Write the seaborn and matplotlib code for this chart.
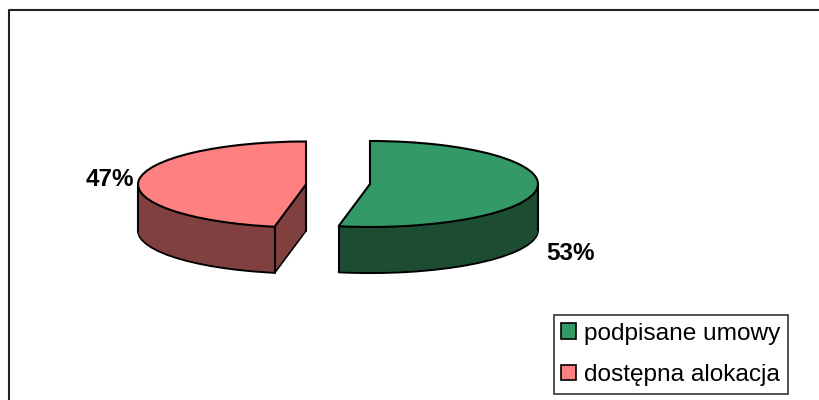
import matplotlib
matplotlib.use('Agg')
import numpy as np
import seaborn as sns
import matplotlib.pyplot as plt
from matplotlib.patches import Patch

# Data
labels = ['podpisane umowy', 'dostępna alokacja']
values = [53, 47]
pct_labels = ['53%', '47%']
top_colors = ['#339966', '#FF8080']
side_colors = ['#1C4D33', '#804040']

sns.set_theme(style='white')
plt.rcParams['font.family'] = ['Liberation Sans', 'DejaVu Sans']

# pixel layout of the reference
rx, ry, depth = 168, 43, 46
squash = rx / ry
centers = [(370, 184), (306, 184.5)]


def to_y(py):
    # pixel row -> stretched data y, the axes squash the pie back down
    return (400 - py) * squash


def draw_slice(ax, idx, cx, py, color, edge, lw=1.5):
    wedges, _ = ax.pie(values, colors=[color, color], radius=rx, center=(cx, to_y(py)),
                       startangle=90, counterclock=False,
                       wedgeprops={'edgecolor': edge, 'linewidth': lw})
    wedges[1 - idx].set_visible(False)
    return wedges[idx]


fig = plt.figure(figsize=(8.2, 4.0), dpi=100)
ax = fig.add_axes([0, 0, 1, 1])

fractions = np.array(values) / sum(values)
cut = 2 * np.pi * fractions[0]

for idx, (cx, cy) in enumerate(centers):
    # side wall: outline of the bottom, then dark copies going up, then the top
    draw_slice(ax, idx, cx, cy + depth, side_colors[idx], 'black')
    for d in range(depth - 1, 0, -1):
        draw_slice(ax, idx, cx, cy + d, side_colors[idx], 'none', lw=0)
    draw_slice(ax, idx, cx, cy, top_colors[idx], 'black')

    # vertical wall edges
    cut_x = cx + rx * np.sin(cut)
    cut_py = cy - ry * np.cos(cut)
    ax.plot([cut_x, cut_x], [to_y(cut_py), to_y(cut_py + depth)], color='black', lw=1.5, zorder=5)
    if idx == 0:
        side_x = cx + rx
    else:
        side_x = cx - rx
        ax.plot([cx, cx], [to_y(cy), to_y(cy + depth)], color='black', lw=1.5, zorder=5)
    ax.plot([side_x, side_x], [to_y(cy), to_y(cy + depth)], color='black', lw=1.5, zorder=5)

ax.set_aspect('auto')
ax.set_xlim(0, 820)
ax.set_ylim(0, 400 * squash)
ax.axis('off')

# percent labels
ax.text(571, to_y(253), pct_labels[0], fontsize=17.5, fontweight='bold', ha='center', va='center', color='black')
ax.text(110, to_y(180), pct_labels[1], fontsize=17.5, fontweight='bold', ha='center', va='center', color='black')

# outer frame, open at the right and bottom of the picture
ax.plot([9.5, 9.5, 820], [to_y(400), to_y(9.5), to_y(9.5)], color='#222222', lw=1.5, clip_on=False)

handles = [Patch(facecolor=c, edgecolor='black', linewidth=1.2) for c in top_colors]
leg = ax.legend(handles, labels, loc='lower left', bbox_to_anchor=(554 / 820, 1 - 393.5 / 400),
                bbox_transform=ax.transAxes, prop={'size': 17.6}, labelcolor='black', frameon=True,
                fancybox=False, edgecolor='#333333', framealpha=1, borderaxespad=0, borderpad=0.3,
                handlelength=0.58, handleheight=0.58, handletextpad=0.36, labelspacing=0.8)
leg.get_frame().set_linewidth(1.2)

fig.savefig('out.png', dpi=100)
